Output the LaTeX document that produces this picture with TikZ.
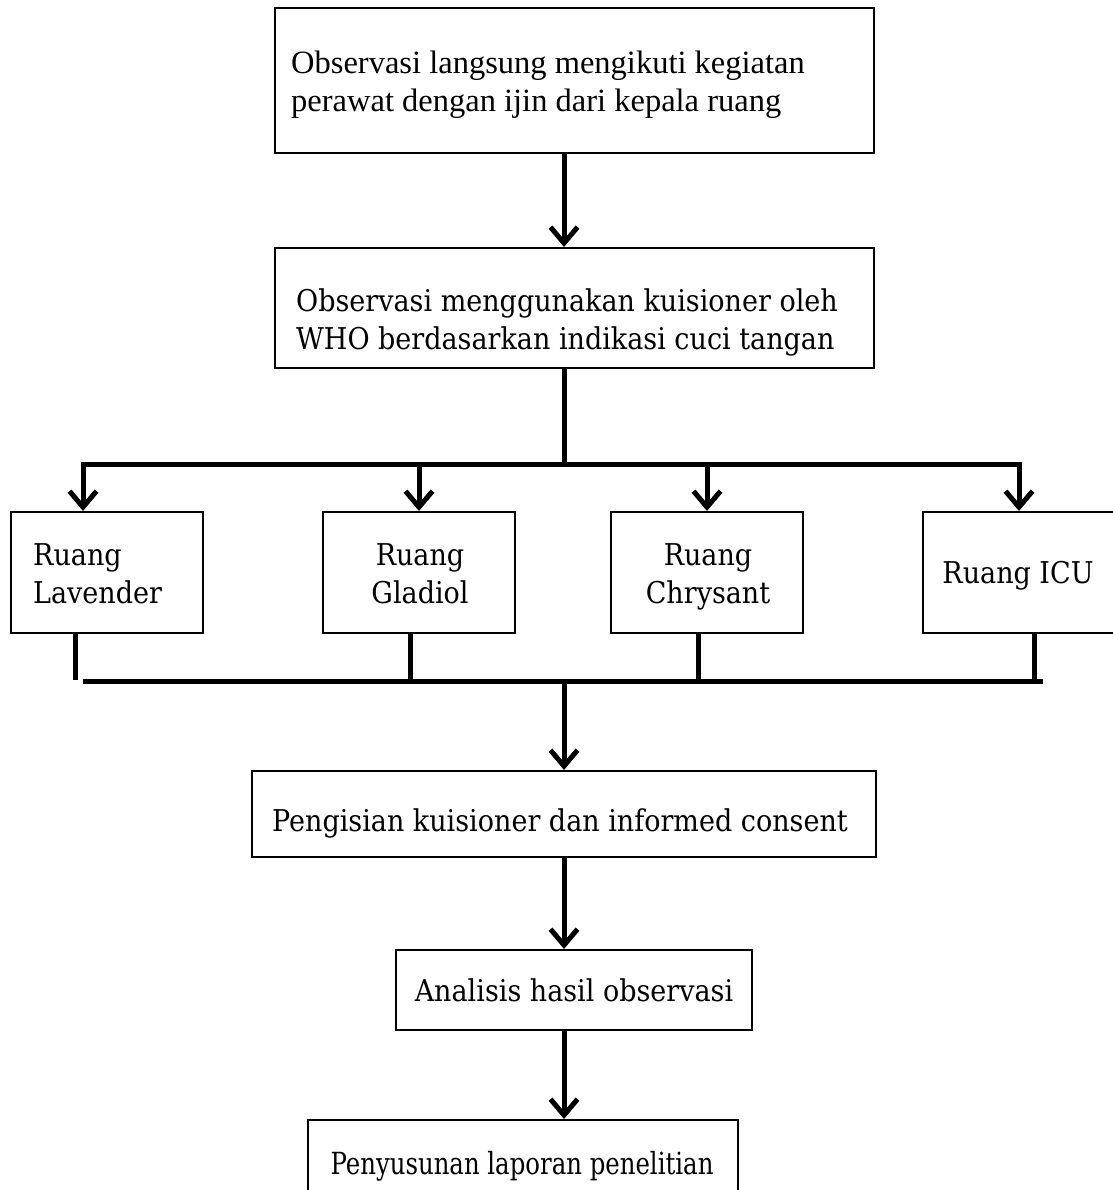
\documentclass[tikz,border=0pt]{standalone}
\usepackage{fontspec}
\setmainfont{DejaVu Serif}[FakeStretch=0.9]
\newfontfamily\tnr{Liberation Serif}
\newfontfamily\narrowserif{DejaVu Serif}[FakeStretch=0.8]
\usetikzlibrary{arrows.meta}
\begin{document}
\begin{tikzpicture}[x=1pt,y=-1pt,
  box/.style={draw, line width=2pt, inner sep=0pt},
  conn/.style={line width=5pt},
  arr/.style={line width=5pt, -{Straight Barb[length=16pt,width=27pt]}},
  txt/.style={inner sep=0pt, font=\fontsize{30}{38}\selectfont},
  ttxt/.style={inner sep=0pt, font=\tnr\fontsize{32.5}{38}\selectfont}
]
\useasboundingbox[fill=white] (0,0) rectangle (1112,1190);

% main boxes
\node[box, minimum width=599pt, minimum height=145pt] (top) at (574.5,80.5) {};
\node[ttxt, align=left, anchor=north west] (toptxt) at (291,51)
  {Observasi langsung mengikuti kegiatan\\perawat dengan ijin dari kepala ruang};

\node[box, minimum width=599pt, minimum height=120pt] (who) at (574.5,308) {};
\node[txt, align=left, anchor=north west] (whotxt) at (296,289)
  {Observasi menggunakan kuisioner oleh\\WHO berdasarkan indikasi cuci tangan};

% rooms
\node[box, minimum width=192pt, minimum height=121pt] (lav) at (107,572.5) {};
\node[txt, align=left, anchor=north west] (lavtxt) at (33,543) {Ruang\\Lavender};
\node[box, minimum width=192pt, minimum height=121pt] (gla) at (419,572.5) {};
\node[txt, align=center, anchor=north] (glatxt) at (420,543) {Ruang\\Gladiol};
\node[box, minimum width=192pt, minimum height=121pt] (chr) at (707,572.5) {};
\node[txt, align=center, anchor=north] (chrtxt) at (708,543) {Ruang\\Chrysant};
\node[box, minimum width=199pt, minimum height=121pt] (icu) at (1022.5,572.5) {};
\node[txt, anchor=base] (icutxt) at (1018,583) {Ruang ICU};

% lower boxes
\node[box, minimum width=624pt, minimum height=86pt] (peng) at (563.5,814) {};
\node[txt, anchor=base] (pengtxt) at (560,831) {Pengisian kuisioner dan informed consent};
\node[box, minimum width=356pt, minimum height=80pt] (ana) at (574,990) {};
\node[txt, anchor=base] (anatxt) at (574,1001) {Analisis hasil observasi};
\node[box, minimum width=430pt, minimum height=90pt] (pen) at (523,1165) {};
\node[inner sep=0pt, font=\narrowserif\fontsize{30.5}{34}\selectfont, anchor=base] (pentxt) at (522,1174)
  {Penyusunan laporan penelitian};

% coordinates
\coordinate (mx) at (564,0);
\coordinate (h1) at (83,464);
\coordinate (h2) at (419,464);
\coordinate (h3) at (707,464);
\coordinate (h4) at (1019,464);
\coordinate (hc) at (564,464);
\coordinate (s1) at (75,680);
\coordinate (s2) at (410,681);
\coordinate (s3) at (698,681);
\coordinate (s4) at (1034,681);
\coordinate (bl) at (83,681);
\coordinate (br) at (1043,681);
\coordinate (bc) at (564,681);

% connectors
\draw[arr] (top.south -| mx) -- (who.north -| mx);
\draw[conn] (who.south -| mx) -- (hc);
\draw[conn, line cap=rect] (h1) -- (h4);
\draw[arr] (h1) -- (lav.north -| h1);
\draw[arr] (h2) -- (gla.north -| h2);
\draw[arr] (h3) -- (chr.north -| h3);
\draw[arr] (h4) -- (icu.north -| h4);

\draw[conn] (lav.south -| s1) -- (s1);
\draw[conn] (gla.south -| s2) -- (s2);
\draw[conn] (chr.south -| s3) -- (s3);
\draw[conn] (icu.south -| s4) -- (s4);
\draw[conn] (bl) -- (br);

\draw[arr] (bc) -- (peng.north -| bc);
\draw[arr] (peng.south -| mx) -- (ana.north -| mx);
\draw[arr] (ana.south -| mx) -- (pen.north -| mx);
\end{tikzpicture}
\end{document}
